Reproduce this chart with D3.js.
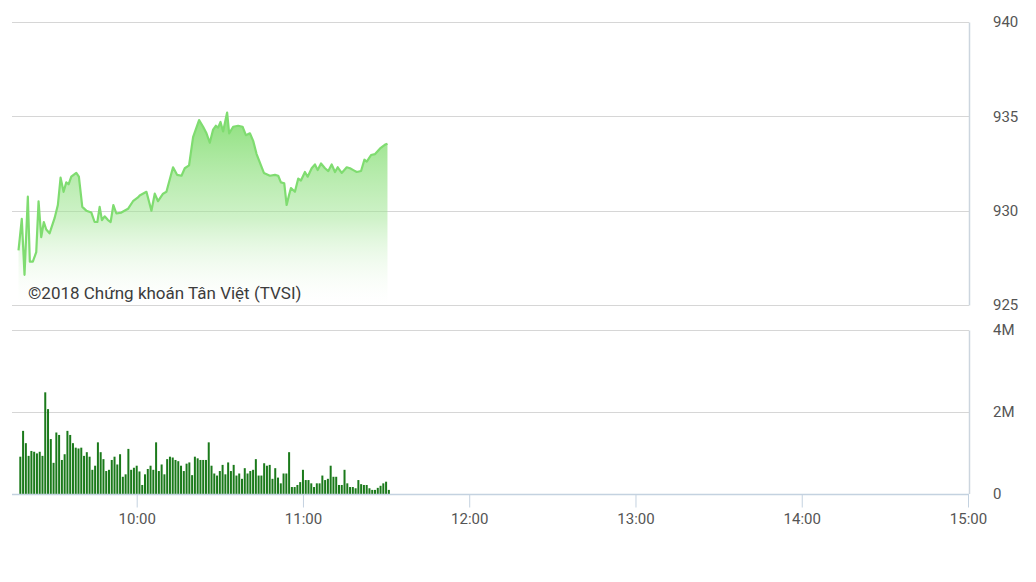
<!DOCTYPE html>
<html>
<head>
<meta charset="utf-8">
<script src="https://cdn.jsdelivr.net/npm/d3@7"></script>
<style>
  html, body { margin: 0; padding: 0; background: #ffffff; }
  svg { display: block; font-family: Roboto, "Noto Sans", sans-serif; }
</style>
</head>
<body>
<svg id="chart" width="1036" height="582"></svg>
<script>
// ---- Data ----
const priceTimes = [
  "09:17:21","09:18:32","09:19:31","09:20:43","09:21:26","09:22:31","09:23:45","09:24:35","09:25:33","09:26:29",
  "09:27:22","09:28:33","09:30:22","09:31:33","09:32:32","09:33:37","09:34:35","09:35:25","09:36:24","09:38:12",
  "09:39:08","09:40:22","09:41:49","09:43:38","09:44:49","09:45:48","09:46:38","09:47:28","09:48:26","09:49:38",
  "09:50:36","09:51:35","09:52:40","09:54:28","09:56:52","09:58:40","10:00:28","10:01:05","10:03:31","10:05:19",
  "10:06:31","10:07:42","10:09:31","10:10:44","10:13:07","10:14:34","10:16:10","10:17:21","10:18:54","10:20:21",
  "10:22:31","10:23:58","10:25:11","10:26:23","10:27:35","10:28:33","10:29:23","10:30:15","10:31:11","10:32:38",
  "10:33:22","10:34:49","10:36:37","10:38:12","10:39:24","10:40:51","10:42:02","10:43:16","10:45:54","10:48:04",
  "10:49:53","10:51:04","10:52:03","10:53:15","10:54:07","10:54:56","10:55:40","10:57:06","10:58:18","10:59:17",
  "11:00:43","11:01:42","11:03:09","11:04:20","11:05:19","11:06:31","11:07:57","11:09:09","11:10:22","11:11:34",
  "11:12:33","11:13:59","11:15:48","11:16:59","11:18:11","11:19:25","11:20:58","11:22:10","11:23:02","11:24:35",
  "11:26:02","11:27:50","11:29:39","11:30:30"
];
const priceValues = [
  927.9,929.56,926.6,930.74,927.3,927.3,927.8,930.5,928.6,929.4,
  929.0,928.8,929.6,930.3,931.75,931.0,931.5,931.4,931.8,932.0,
  931.8,930.2,930.0,929.9,929.4,929.4,930.2,929.5,929.7,929.5,
  929.4,930.3,929.85,929.9,930.1,930.5,930.7,930.8,931.0,930.0,
  930.9,930.5,930.9,931.0,932.3,931.9,931.85,932.25,932.4,933.9,
  934.8,934.45,934.1,933.6,934.3,934.5,934.4,934.7,934.2,935.2,
  934.1,934.45,934.5,934.45,934.0,934.1,933.7,933.0,932.0,931.85,
  931.9,931.85,931.5,931.45,930.3,930.8,931.2,931.0,931.7,931.6,
  932.05,931.8,932.25,932.45,932.15,932.5,932.25,932.1,932.45,932.05,
  932.3,932.0,932.3,932.25,932.15,932.05,932.1,932.7,932.6,932.95,
  933.0,933.3,933.5,933.55
];
// one volume bar per minute, starting at volumeStart
const volumeStart = "09:18:00";
const volumeValues = [
  0.91,1.54,1.24,0.93,1.05,1.03,0.99,1.03,0.93,2.48,
  2.07,1.34,0.76,1.50,1.44,0.83,0.97,1.54,1.44,1.24,
  1.13,1.11,1.13,0.93,1.02,0.91,0.59,0.69,1.26,1.02,
  0.85,0.56,0.59,0.83,0.91,0.72,0.97,0.42,0.48,1.10,
  0.59,0.64,0.69,0.55,0.22,0.48,0.61,0.69,0.59,1.26,
  0.56,0.72,0.48,0.85,0.91,0.89,0.83,0.80,0.69,0.56,
  0.74,0.77,0.46,0.91,0.87,0.83,0.83,0.83,
  1.26,0.69,0.50,0.45,0.56,0.71,0.48,0.77,0.56,0.71,
  0.45,0.50,0.37,0.63,0.50,0.56,0.59,0.85,0.45,0.45,
  0.75,0.69,0.71,0.37,0.63,0.40,0.26,0.50,0.50,1.02,
  0.17,0.17,0.22,0.29,0.59,0.34,0.34,0.26,0.17,0.26,
  0.26,0.45,0.34,0.37,0.69,0.42,0.42,0.22,0.22,0.59,
  0.26,0.17,0.17,0.14,0.34,0.24,0.22,0.22,0.14,0.10,
  0.10,0.15,0.20,0.26,0.30,0.10
].map(v => v * 1e6);
const timeDomain = ["09:15:00", "15:00:00"];
const xTickLabels = ["10:00", "11:00", "12:00", "13:00", "14:00", "15:00"];
const priceTicks = [925, 930, 935, 940];
const volumeTicks = [0, 2e6, 4e6];
const volumeTickLabels = ["0", "2M", "4M"];
const watermark = "©2018 Chứng khoán Tân Việt (TVSI)";

// ---- Setup ----
const parseT = d3.timeParse("%H:%M:%S");
const parseHM = d3.timeParse("%H:%M");
const svg = d3.select("#chart");

const left = 12, right = 969;
const x = d3.scaleTime().domain(timeDomain.map(parseT)).range([left, 968]);

const yP = d3.scaleLinear().domain([925, 940]).range([305, 22]);
const yV = d3.scaleLinear().domain([0, 4e6]).range([494, 330]);

const priceData = priceTimes.map((t, i) => ({ t: parseT(t), v: priceValues[i] }));
const vStart = parseT(volumeStart);
const volumeData = volumeValues.map((v, i) => ({ t: d3.timeMinute.offset(vStart, i), v }));

// gradient
const defs = svg.append("defs");
const grad = defs.append("linearGradient")
  .attr("id", "pg").attr("gradientUnits", "userSpaceOnUse")
  .attr("x1", 0).attr("x2", 0).attr("y1", yP(935.2)).attr("y2", yP(925));
grad.append("stop").attr("offset", 0).attr("stop-color", "#7fdc6c").attr("stop-opacity", 0.9);
grad.append("stop").attr("offset", 0.55).attr("stop-color", "#9fe592").attr("stop-opacity", 0.5);
grad.append("stop").attr("offset", 1).attr("stop-color", "#ffffff").attr("stop-opacity", 0.1);

// ---- Price panel gridlines ----
svg.append("g").selectAll("line").data(priceTicks).join("line")
  .attr("x1", left).attr("x2", right)
  .attr("y1", d => Math.round(yP(d)) + 0.5).attr("y2", d => Math.round(yP(d)) + 0.5)
  .attr("stroke", "#d6d6d6").attr("stroke-width", 1);
svg.append("line")
  .attr("x1", right + 0.5).attr("x2", right + 0.5)
  .attr("y1", Math.round(yP(940)) + 0.5).attr("y2", Math.round(yP(925)) + 0.5)
  .attr("stroke", "#ccd5de").attr("stroke-width", 1.5);

// area + line
const area = d3.area().x(d => x(d.t)).y0(yP(925)).y1(d => yP(d.v)).curve(d3.curveLinear);
const line = d3.line().x(d => x(d.t)).y(d => yP(d.v)).curve(d3.curveLinear);
svg.append("path").datum(priceData).attr("d", area).attr("fill", "url(#pg)");
svg.append("path").datum(priceData).attr("d", line)
  .attr("fill", "none").attr("stroke", "#7fdc70").attr("stroke-width", 2.2)
  .attr("stroke-linejoin", "round");

// watermark
svg.append("text").attr("x", 28).attr("y", 299)
  .attr("font-size", 17).attr("fill", "#3c3c3c").text(watermark);

// price labels
svg.append("g").selectAll("text").data(priceTicks).join("text")
  .attr("x", 993).attr("y", d => yP(d)).attr("dy", "0.35em")
  .attr("font-size", 15).attr("fill", "#555").text(d => d);

// ---- Volume panel ----
svg.append("g").selectAll("line").data(volumeTicks.slice(1)).join("line")
  .attr("x1", left).attr("x2", right)
  .attr("y1", d => Math.round(yV(d)) + 0.5).attr("y2", d => Math.round(yV(d)) + 0.5)
  .attr("stroke", "#d6d6d6").attr("stroke-width", 1);
svg.append("line")
  .attr("x1", right + 0.5).attr("x2", right + 0.5)
  .attr("y1", Math.round(yV(4e6)) + 0.5).attr("y2", yV(0))
  .attr("stroke", "#ccd5de").attr("stroke-width", 1.5);

svg.append("g").selectAll("rect").data(volumeData).join("rect")
  .attr("x", d => x(d.t) - 1).attr("width", 2)
  .attr("y", d => yV(d.v)).attr("height", d => yV(0) - yV(d.v))
  .attr("fill", "#1b7a1b");

svg.append("g").selectAll("text").data(volumeTicks).join("text")
  .attr("x", 993).attr("y", d => yV(d)).attr("dy", "0.35em")
  .attr("font-size", 15).attr("fill", "#555").text((d, i) => volumeTickLabels[i]);

// x axis
const xAxis = d3.axisBottom(x)
  .tickValues(xTickLabels.map(parseHM))
  .tickFormat(d3.timeFormat("%H:%M"))
  .tickSize(13).tickPadding(6);
const gx = svg.append("g").attr("transform", `translate(0,${yV(0) + 0.5})`).call(xAxis);
gx.select(".domain").attr("d", `M${left},0H${right}`).attr("stroke", "#c4d2e0").attr("stroke-width", 1.5);
gx.selectAll(".tick line").attr("stroke", "#c4d2e0");
gx.selectAll(".tick text").attr("font-size", 15).attr("fill", "#555")
  .attr("font-family", "Roboto, 'Noto Sans', sans-serif");
</script>
</body>
</html>
